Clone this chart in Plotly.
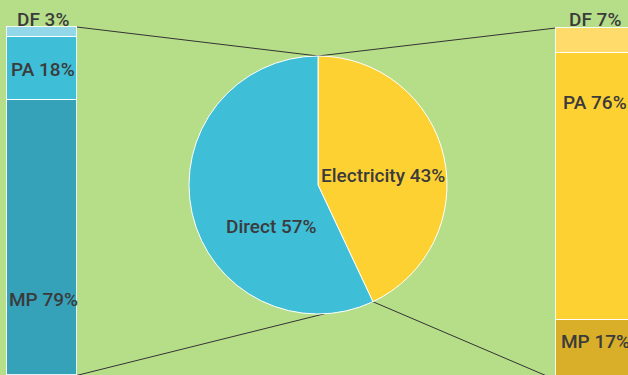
import numpy as np
import plotly.graph_objects as go

W, H = 628, 375

# ---------------- data ----------------
pie_labels = ["Electricity", "Direct"]
pie_values = [43, 57]
pie_colors = ["#fed133", "#3ebed7"]

bar_parts = ["DF", "PA", "MP"]
direct_values = [3, 18, 79]
electricity_values = [7, 76, 17]
direct_colors = ["#92d8e8", "#3ebed7", "#35a2ba"]
electricity_colors = ["#fedb6b", "#fed133", "#d9af29"]

BG = "#b6de89"
TEXT = "#3b3b3b"
FONT = dict(family="Roboto, Arial, sans-serif", size=19, color=TEXT, weight=500)

# ---------------- layout helpers ----------------
x_range = [-0.0761, 1.0616]        # left bar at x=0, right bar at x=1
y_range_left = [99.9, -7.76]       # reversed: stack grows downward
y_range_right = [98.6, -7.95]


def px_x(xd):
    return (xd - x_range[0]) / (x_range[1] - x_range[0]) * W


def px_y(v, rng):
    return (v - rng[1]) / (rng[0] - rng[1]) * H


def paper(px, py):
    return px / W, 1 - py / H


scale_x = W / (x_range[1] - x_range[0])
left_width = 70 / scale_x
right_width = 76 / scale_x

fig = go.Figure()

for i, part in enumerate(bar_parts):
    fig.add_trace(go.Bar(
        x=[0], y=[direct_values[i]], width=[left_width],
        marker=dict(color=direct_colors[i], line=dict(color="rgba(255,255,255,0.85)", width=1)),
        hoverinfo="skip", showlegend=False, yaxis="y",
    ))
    fig.add_trace(go.Bar(
        x=[1], y=[electricity_values[i]], width=[right_width],
        marker=dict(color=electricity_colors[i], line=dict(color="rgba(255,255,255,0.85)", width=1)),
        hoverinfo="skip", showlegend=False, yaxis="y2",
    ))

# pie geometry
cx, cy, R = 318, 185, 129
fig.add_trace(go.Pie(
    labels=pie_labels,
    values=pie_values,
    sort=False,
    direction="clockwise",
    rotation=0,
    textinfo="none",
    marker=dict(colors=pie_colors, line=dict(color="white", width=1)),
    domain=dict(x=[(cx - R) / W, (cx + R) / W], y=[1 - (cy + R) / H, 1 - (cy - R) / H]),
    hoverinfo="skip",
    showlegend=False,
))

# connector lines
frac = pie_values[0] / sum(pie_values)
theta = 2 * np.pi * frac
top_pt = (cx, cy - R)
split_pt = (cx + R * np.sin(theta), cy - R * np.cos(theta))
left_edge_right = px_x(0) + 35
right_edge_left = px_x(1) - 38

segments = [
    ((left_edge_right, px_y(0, y_range_left)), top_pt),
    ((left_edge_right, px_y(sum(direct_values), y_range_left)), split_pt),
    ((right_edge_left, px_y(0, y_range_right)), top_pt),
    ((right_edge_left, px_y(sum(electricity_values), y_range_right)), split_pt),
]
shapes = []
for a, b in segments:
    x0, y0 = paper(*a)
    x1, y1 = paper(*b)
    shapes.append(dict(type="line", xref="paper", yref="paper", x0=x0, y0=y0, x1=x1, y1=y1,
                       line=dict(color="#333333", width=1), layer="below"))

# labels
annotations = []


def add_label(text, px, py):
    ax, ay = paper(px, py)
    annotations.append(dict(text=text, x=ax, y=ay, xref="paper", yref="paper",
                            xanchor="center", yanchor="middle", showarrow=False, font=FONT))


add_label(f"{pie_labels[0]} {pie_values[0]}%", 383, 175)
add_label(f"{pie_labels[1]} {pie_values[1]}%", 271, 226)

left_label_y = [19.5, 69.5, 299]
right_label_y = [19.5, 103, 341]
for i, part in enumerate(bar_parts):
    add_label(f"{part} {direct_values[i]}%", 43, left_label_y[i])
    add_label(f"{part} {electricity_values[i]}%", 595, right_label_y[i])

fig.update_layout(
    width=W, height=H,
    margin=dict(l=0, r=0, t=0, b=0),
    paper_bgcolor=BG, plot_bgcolor=BG,
    barmode="stack",
    bargap=0,
    xaxis=dict(range=x_range, visible=False, fixedrange=True),
    yaxis=dict(range=y_range_left, visible=False, fixedrange=True),
    yaxis2=dict(range=y_range_right, visible=False, fixedrange=True, overlaying="y"),
    shapes=shapes,
    annotations=annotations,
    showlegend=False,
)

fig.write_html(
    "out.html",
    config=dict(displayModeBar=False),
    post_script="document.body.style.margin='0';document.body.style.overflow='hidden';document.body.style.background='" + BG + "';",
)
